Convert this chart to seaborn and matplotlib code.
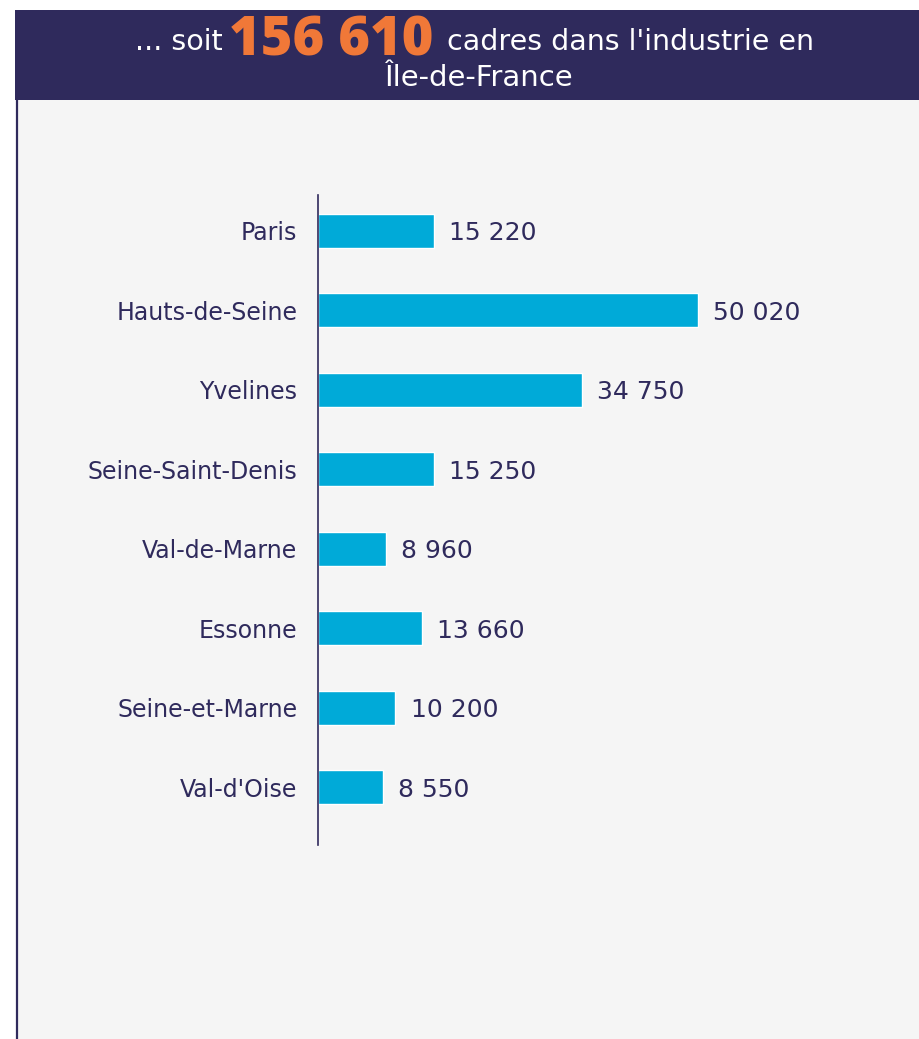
import matplotlib
matplotlib.use("Agg")
import matplotlib.pyplot as plt
import seaborn as sns
import pandas as pd
from matplotlib.patches import Rectangle
from matplotlib.lines import Line2D

departements = ["Paris", "Hauts-de-Seine", "Yvelines", "Seine-Saint-Denis",
                "Val-de-Marne", "Essonne", "Seine-et-Marne", "Val-d'Oise"]
cadres = [15220, 50020, 34750, 15250, 8960, 13660, 10200, 8550]
value_labels = ["15 220", "50 020", "34 750", "15 250", "8 960", "13 660", "10 200", "8 550"]
total_label = "156 610"

NAVY = "#2f2a5c"
BLUE = "#00aad8"
ORANGE = "#f07838"
PANEL = "#f5f5f5"

sns.set_theme(style="white")
plt.rcParams['font.family'] = ['DejaVu Sans']

W, H = 919, 1039
DPI = 100
fig = plt.figure(figsize=(W / DPI, H / DPI), dpi=DPI)
fig.patch.set_facecolor("white")

def fx(px):
    return px / W

def fy(py):
    return 1 - py / H

# panel background
fig.add_artist(Rectangle((fx(16), 0), 1 - fx(16), fy(100), transform=fig.transFigure,
                         facecolor=PANEL, edgecolor="none", zorder=0))
fig.add_artist(Line2D([fx(16.5), fx(16.5)], [0, fy(100)], transform=fig.transFigure,
                      color=NAVY, lw=1.6, zorder=1))
# header
fig.add_artist(Rectangle((fx(15), fy(100)), 1 - fx(15), fy(10) - fy(100), transform=fig.transFigure,
                         facecolor=NAVY, edgecolor="none", zorder=1))

# axes
ax = fig.add_axes([fx(318), fy(845), fx(900) - fx(318), fy(195) - fy(845)])
ax.set_facecolor("none")
df = pd.DataFrame({"dep": departements, "cadres": cadres})
sns.barplot(data=df, x="cadres", y="dep", orient="h", color=BLUE, width=0.43,
            saturation=1, ax=ax)
scale = (698 - 318) / 50020.0
ax.set_xlim(0, (900 - 318) / scale)
ax.set_ylim(7.73, -0.453)
texts = ax.bar_label(ax.containers[0], labels=value_labels, padding=11, fontsize=18,
                     color=NAVY, fontweight="medium")
for t in texts:
    t.set_va("center_baseline")
for s in ["top", "right", "bottom"]:
    ax.spines[s].set_visible(False)
ax.spines["left"].set_color(NAVY)
ax.spines["left"].set_linewidth(1.2)
ax.set_xticks([])
ax.set_xlabel("")
ax.set_ylabel("")
ax.tick_params(axis="y", length=0, pad=15, labelsize=17, labelcolor=NAVY)
for lab in ax.get_yticklabels():
    lab.set_va("center_baseline")

# title
fig.canvas.draw()
r = fig.canvas.get_renderer()
big = fig.text(fx(331), fy(55), total_label, ha="center", va="baseline", fontsize=39,
               fontweight="heavy", color=ORANGE, zorder=3,
               family=['Open Sans', 'DejaVu Sans'])
bb = big.get_window_extent(r)
fig.text((bb.x0 - 6) / W, fy(50), "... soit", ha="right", va="baseline", fontsize=20.5,
         color="white", zorder=3)
fig.text((bb.x1 + 14) / W, fy(50), "cadres dans l'industrie en", ha="left", va="baseline",
         fontsize=20.5, color="white", zorder=3)
fig.text(fx(478), fy(86), "Île-de-France", ha="center", va="baseline", fontsize=21,
         color="white", zorder=3)

fig.savefig("out.png", dpi=DPI, facecolor="white")
